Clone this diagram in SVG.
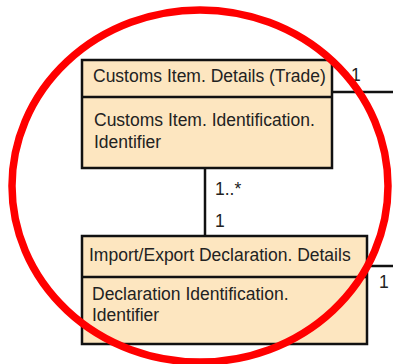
<svg xmlns="http://www.w3.org/2000/svg" width="393" height="364" viewBox="0 0 393 364">
<style>
.box{fill:#FDE6C0;stroke:#111;stroke-width:2.5}
.ln{stroke:#111;stroke-width:2.5;fill:none}
text{font-family:"Liberation Sans",Arial,sans-serif;font-size:17.5px;fill:#222}
</style>
<rect width="393" height="364" fill="#fff"/>
<g id="connectors">
<line class="ln" x1="205" y1="168" x2="205" y2="236"/>
<line class="ln" x1="332" y1="92" x2="393" y2="92"/>
<line class="ln" x1="367" y1="266" x2="393" y2="266"/>
<text x="351" y="81">1</text>
<text x="215" y="195">1..*</text>
<text x="215" y="227">1</text>
<text x="379" y="288">1</text>
</g>
<g id="customs-item">
<rect class="box" x="82" y="60" width="250" height="108"/>
<line class="ln" x1="82" y1="97" x2="332" y2="97"/>
<text x="93" y="82">Customs Item. Details (Trade)</text>
<text x="94" y="126">Customs Item. Identification.</text>
<text x="94" y="148">Identifier</text>
</g>
<g id="declaration">
<rect class="box" x="82" y="236" width="285" height="108"/>
<line class="ln" x1="82" y1="277" x2="367" y2="277"/>
<text x="89" y="261">Import/Export Declaration. Details</text>
<text x="92" y="300">Declaration Identification.</text>
<text x="92" y="321">Identifier</text>
</g>
<ellipse cx="200" cy="186" rx="188" ry="176" fill="none" stroke="#f00" stroke-width="7.5"/>
</svg>
